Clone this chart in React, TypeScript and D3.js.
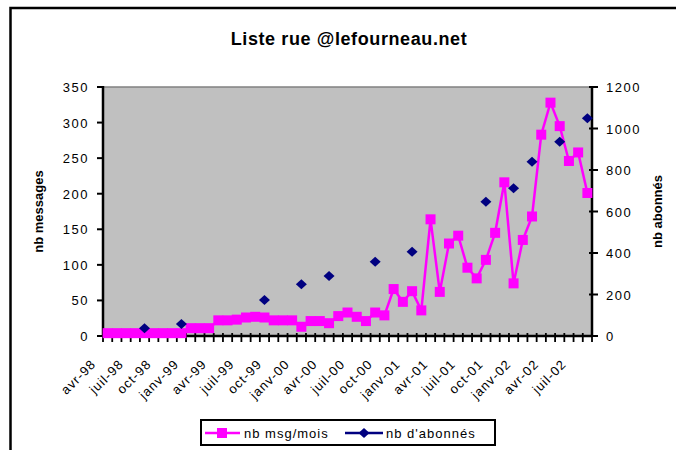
import React, { useEffect, useRef } from "react";
import * as d3 from "d3";

// months avr-98 .. août-02
const categories = [
  "avr-98", "mai-98", "juin-98", "juil-98", "août-98", "sept-98", "oct-98", "nov-98", "déc-98",
  "janv-99", "févr-99", "mars-99", "avr-99", "mai-99", "juin-99", "juil-99", "août-99", "sept-99",
  "oct-99", "nov-99", "déc-99", "janv-00", "févr-00", "mars-00", "avr-00", "mai-00", "juin-00",
  "juil-00", "août-00", "sept-00", "oct-00", "nov-00", "déc-00", "janv-01", "févr-01", "mars-01",
  "avr-01", "mai-01", "juin-01", "juil-01", "août-01", "sept-01", "oct-01", "nov-01", "déc-01",
  "janv-02", "févr-02", "mars-02", "avr-02", "mai-02", "juin-02", "juil-02", "août-02",
];
const tickLabels = [
  "avr-98", "juil-98", "oct-98", "janv-99", "avr-99", "juil-99", "oct-99", "janv-00", "avr-00",
  "juil-00", "oct-00", "janv-01", "avr-01", "juil-01", "oct-01", "janv-02", "avr-02", "juil-02",
];
const msgPerMonth = [
  4, 4, 4, 4, 4, 4, 4, 4, 4,
  11, 11, 11, 22, 22, 23, 26, 27, 26,
  22, 22, 22, 13, 21, 21, 18, 28, 33,
  27, 21, 33, 29, 66, 48, 63, 36, 164,
  62, 130, 141, 96, 81, 107, 145, 216, 74,
  135, 168, 283, 328, 295, 246, 258, 201,
];
const subscribers: (number | null)[] = [
  null, null, null, null, 37, null, null, null, 58,
  null, null, null, null, null, null, null, null, 173,
  null, null, null, 250, null, null, 289, null, null,
  null, null, 358, null, null, null, 406, null, null,
  null, null, null, null, null, 647, null, null, 712,
  null, 840, null, null, 936, null, null, 1049,
];
const leftTicks = [0, 50, 100, 150, 200, 250, 300, 350];
const rightTicks = [0, 200, 400, 600, 800, 1000, 1200];

const W = 676;
const H = 450;
const font = "'Liberation Sans', Arial, sans-serif";

export default function App() {
  const ref = useRef<SVGSVGElement>(null);

  useEffect(() => {
    const svg = d3.select(ref.current);
    svg.selectAll("*").remove();

    const left = 103, right = 592, top = 87, bottom = 336;
    const pink = "#FF00FF", navy = "#000080";

    const x = d3.scaleBand<string>().domain(categories).range([left, right]).padding(0);
    const yL = d3.scaleLinear().domain([0, 350]).range([bottom, top]);
    const yR = d3.scaleLinear().domain([0, 1200]).range([bottom, top]);
    const cx = (c: string) => (x(c) as number) + x.bandwidth() / 2;

    svg.append("rect").attr("width", W).attr("height", H).attr("fill", "#fff");
    // chart border (clipped by picture)
    svg.append("rect").attr("x", 10.5).attr("y", 8).attr("width", 800).attr("height", 600)
      .attr("fill", "none").attr("stroke", "#000").attr("stroke-width", 2.5);

    svg.append("text").attr("x", 349).attr("y", 45).attr("text-anchor", "middle")
      .attr("font-family", font).attr("font-weight", "bold").attr("font-size", 18)
      .attr("letter-spacing", 0.6)
      .text("Liste rue @lefourneau.net");

    // plot area
    svg.append("rect").attr("x", left).attr("y", top).attr("width", right - left).attr("height", bottom - top)
      .attr("fill", "#C0C0C0");
    svg.append("line").attr("x1", left).attr("x2", right).attr("y1", top).attr("y2", top)
      .attr("stroke", "#808080").attr("stroke-width", 1.5);

    // left axis
    const gl = svg.append("g");
    gl.selectAll("line.t").data(leftTicks).enter().append("line")
      .attr("x1", left - 6).attr("x2", left).attr("y1", d => yL(d)).attr("y2", d => yL(d))
      .attr("stroke", "#000").attr("stroke-width", 2);
    gl.selectAll("text").data(leftTicks).enter().append("text")
      .attr("x", 89).attr("y", d => yL(d) + 5).attr("text-anchor", "end")
      .attr("font-family", font).attr("font-size", 13).attr("letter-spacing", 1.5)
      .text(d => d);
    gl.append("line").attr("x1", left).attr("x2", left).attr("y1", top - 1).attr("y2", bottom + 1)
      .attr("stroke", "#000").attr("stroke-width", 2.5);

    // right axis
    const gr = svg.append("g");
    gr.selectAll("line.t").data(rightTicks).enter().append("line")
      .attr("x1", right - 3).attr("x2", right + 6).attr("y1", d => yR(d)).attr("y2", d => yR(d))
      .attr("stroke", "#000").attr("stroke-width", 2);
    gr.selectAll("text").data(rightTicks).enter().append("text")
      .attr("x", 606).attr("y", d => yR(d) + 5).attr("text-anchor", "start")
      .attr("font-family", font).attr("font-size", 13).attr("letter-spacing", 1.5)
      .text(d => d);
    gr.append("line").attr("x1", right).attr("x2", right).attr("y1", top - 1).attr("y2", bottom + 1)
      .attr("stroke", "#000").attr("stroke-width", 2.5);

    // axis titles
    svg.append("text").attr("transform", `translate(43, ${(top + bottom) / 2}) rotate(-90)`)
      .attr("text-anchor", "middle").attr("font-family", font).attr("font-weight", "bold")
      .attr("font-size", 13).text("nb messages");
    svg.append("text").attr("transform", `translate(662, ${(top + bottom) / 2}) rotate(-90)`)
      .attr("text-anchor", "middle").attr("font-family", font).attr("font-weight", "bold")
      .attr("font-size", 13).text("nb abonnés");

    // category axis
    const gx = svg.append("g");
    const bounds = d3.range(categories.length + 1).map(k => left + k * x.bandwidth());
    gx.selectAll("line").data(bounds).enter().append("line")
      .attr("x1", d => d).attr("x2", d => d).attr("y1", bottom - 3).attr("y2", bottom + 6)
      .attr("stroke", "#000").attr("stroke-width", 1.8);
    gx.append("line").attr("x1", left).attr("x2", right).attr("y1", bottom).attr("y2", bottom)
      .attr("stroke", "#000").attr("stroke-width", 2.5);
    gx.selectAll("text").data(tickLabels).enter().append("text")
      .attr("transform", d => `translate(${cx(d) - 11}, ${bottom + 29}) rotate(-45)`)
      .attr("text-anchor", "end").attr("font-family", font).attr("font-size", 13)
      .attr("letter-spacing", 1)
      .text(d => d);

    // msg series
    const line = d3.line<number>().x((_, i) => cx(categories[i])).y(d => yL(d));
    svg.append("path").attr("d", line(msgPerMonth) as string).attr("fill", "none")
      .attr("stroke", pink).attr("stroke-width", 2.5);
    svg.append("g").selectAll("rect").data(msgPerMonth).enter().append("rect")
      .attr("x", (_, i) => cx(categories[i]) - 5).attr("y", d => yL(d) - 5)
      .attr("width", 10).attr("height", 10).attr("fill", pink);

    // subscribers series (no line across gaps)
    const diamond = (px: number, py: number) => `M${px},${py - 5}L${px + 5.5},${py}L${px},${py + 5}L${px - 5.5},${py}Z`;
    svg.append("g").selectAll("path")
      .data(subscribers.map((v, i) => ({ v, c: categories[i] })).filter(d => d.v !== null))
      .enter().append("path")
      .attr("d", d => diamond(cx(d.c), yR(d.v as number))).attr("fill", navy);

    // legend
    const lg = svg.append("g");
    lg.append("rect").attr("x", 201).attr("y", 420).attr("width", 294).attr("height", 25)
      .attr("fill", "#fff").attr("stroke", "#000").attr("stroke-width", 2);
    lg.append("line").attr("x1", 205).attr("x2", 240).attr("y1", 433).attr("y2", 433)
      .attr("stroke", pink).attr("stroke-width", 2.5);
    lg.append("rect").attr("x", 217).attr("y", 428).attr("width", 10).attr("height", 10).attr("fill", pink);
    lg.append("text").attr("x", 244).attr("y", 438).attr("font-family", font).attr("font-size", 13)
      .attr("letter-spacing", 1).text("nb msg/mois");
    lg.append("line").attr("x1", 345).attr("x2", 383).attr("y1", 433).attr("y2", 433)
      .attr("stroke", navy).attr("stroke-width", 2.5);
    lg.append("path").attr("d", diamond(364, 433)).attr("fill", navy);
    lg.append("text").attr("x", 386).attr("y", 438).attr("font-family", font).attr("font-size", 13)
      .attr("letter-spacing", 1).text("nb d'abonnés");
  }, []);

  return (
    <svg ref={ref} width={W} height={H}
      style={{ position: "absolute", left: 0, top: 0, display: "block" }} />
  );
}
